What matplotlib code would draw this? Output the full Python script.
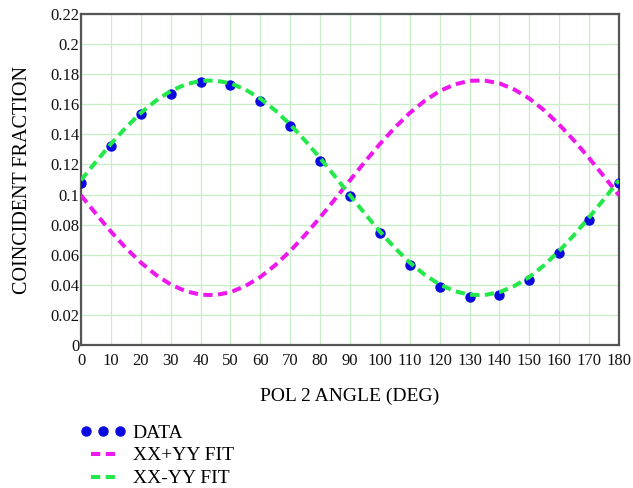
import numpy as np
import matplotlib
matplotlib.use("Agg")
import matplotlib.pyplot as plt
from matplotlib.ticker import FormatStrFormatter
from matplotlib.legend_handler import HandlerLine2D

# measured points
angle = [0, 10, 20, 30, 40, 50, 60, 70, 80, 90,
         100, 110, 120, 130, 140, 150, 160, 170, 180]
fraction = [0.108, 0.1325, 0.1535, 0.1668, 0.1746, 0.1730, 0.1624, 0.1454, 0.1224, 0.0990,
            0.0743, 0.0532, 0.0384, 0.0320, 0.0334, 0.0432, 0.0614, 0.0831, 0.1079]

# fit curves read every 5 deg
fit_angle = list(range(0, 181, 5))
fit_minus = [0.1095, 0.1218, 0.1336, 0.1445, 0.1542, 0.1623, 0.1688, 0.1732, 0.1756, 0.1758,
             0.1739, 0.1698, 0.1638, 0.1559, 0.1465, 0.1358, 0.1242, 0.1120, 0.0995, 0.0872,
             0.0754, 0.0645, 0.0548, 0.0467, 0.0402, 0.0358, 0.0334, 0.0332, 0.0351, 0.0392,
             0.0452, 0.0531, 0.0625, 0.0732, 0.0848, 0.0970, 0.1095]
fit_plus = [0.0995, 0.0872, 0.0754, 0.0645, 0.0548, 0.0467, 0.0402, 0.0358, 0.0334, 0.0332,
            0.0351, 0.0392, 0.0452, 0.0531, 0.0625, 0.0732, 0.0848, 0.0970, 0.1095, 0.1218,
            0.1336, 0.1445, 0.1542, 0.1623, 0.1688, 0.1732, 0.1756, 0.1758, 0.1739, 0.1698,
            0.1638, 0.1559, 0.1465, 0.1358, 0.1242, 0.1120, 0.0995]

plt.rcParams["font.family"] = ["Liberation Serif", "DejaVu Serif"]

fig = plt.figure(figsize=(6.33, 4.88), dpi=100)
ax = fig.add_axes([81 / 633, 1 - 345 / 488, 538 / 633, 331 / 488])

dots, = ax.plot(angle, fraction, "o", color="#0a0ae0", ms=6.5, label="DATA", zorder=3)
ax.plot(fit_angle, fit_plus, color="#ee18ee", lw=2.9, dashes=(2.3, 1.35),
        label="XX+YY FIT", zorder=4)
ax.plot(fit_angle, fit_minus, color="#22e84a", lw=2.9, dashes=(2.3, 1.35),
        label="XX-YY FIT", zorder=4)

ax.set_xlim(0, 180)
ax.set_ylim(0, 0.22)
ax.set_xticks(np.arange(0, 181, 10))
ax.set_yticks(np.arange(0, 0.2201, 0.02))
ax.yaxis.set_major_formatter(FormatStrFormatter("%g"))
ax.grid(True, color="#c6efc6", lw=0.9)
ax.set_axisbelow(True)
ax.tick_params(length=0, labelsize=12, colors="#111111")
ax.tick_params(axis="y", pad=1)
ax.tick_params(axis="x", pad=6)
for s in ax.spines.values():
    s.set_color("#555555")
    s.set_linewidth(1.6)

ax.set_xlabel("POL 2 ANGLE (DEG)", fontsize=14, labelpad=13)
ax.set_ylabel("COINCIDENT FRACTION", fontsize=14.5, labelpad=13)

leg = fig.legend(loc="upper left", bbox_to_anchor=(85 / 633, 1 - 424 / 488),
                 frameon=False, fontsize=14, numpoints=3, handlelength=1.85,
                 handletextpad=0.6, labelspacing=0.27, borderaxespad=0,
                 borderpad=0,
                 handler_map={dots: HandlerLine2D(numpoints=3, marker_pad=0.05)})

fig.savefig("out.png", dpi=100)
